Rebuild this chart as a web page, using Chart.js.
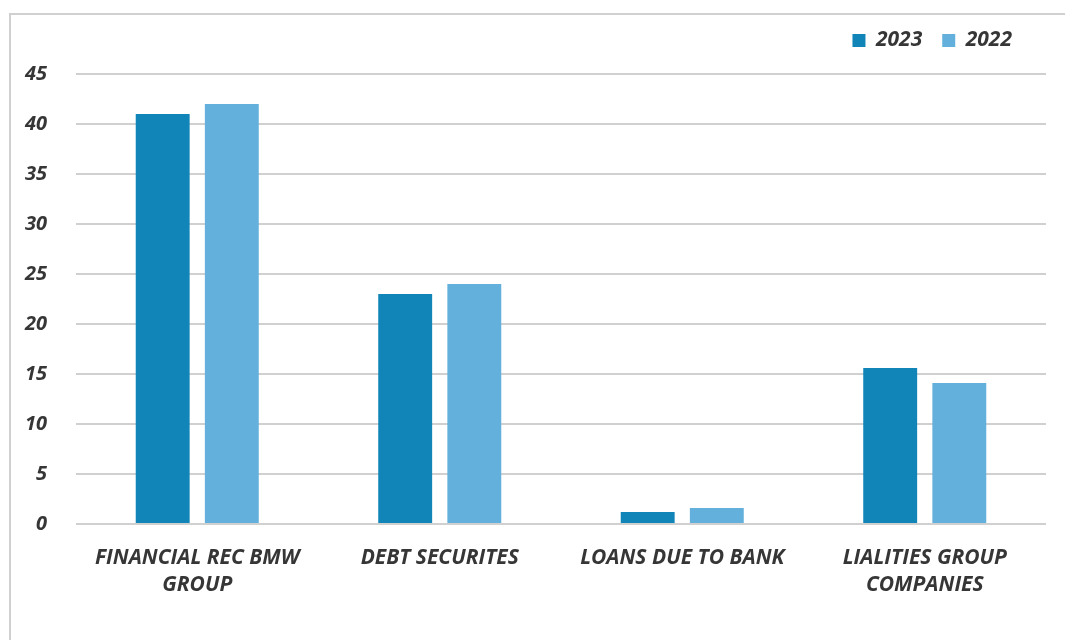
<!DOCTYPE html>
<html>
<head>
<meta charset="utf-8">
<script src="https://cdn.jsdelivr.net/npm/chart.js@4"></script>
<style>
    html, body { margin: 0; padding: 0; background: #fff; overflow: hidden; }
    .frame {
        position: absolute;
        left: 9px;
        top: 13px;
        width: 1100px;
        height: 700px;
        border: 2px solid #d0d0d0;
        box-sizing: border-box;
    }
    .wrap { position: absolute; left: 0; top: 0; width: 1065px; height: 640px; }
</style>
</head>
<body>
<div class="frame"></div>
<div class="wrap"><canvas id="barChart"></canvas></div>
<script>
const categories = [
    ['FINANCIAL REC BMW', 'GROUP'],
    'DEBT SECURITES',
    'LOANS DUE TO BANK',
    ['LIALITIES GROUP', 'COMPANIES']
];
const values2023 = [41, 23, 1.2, 15.6];
const values2022 = [42, 24, 1.6, 14.1];
const yTicks = [0, 5, 10, 15, 20, 25, 30, 35, 40, 45];

document.addEventListener('DOMContentLoaded', function() {
    initializeBarChart();
});

// legend sits a bit left of the plot's right edge and leaves extra room below it
const legendSpacing = {
    id: 'legendSpacing',
    afterInit: function(chart) {
        const legend = chart.legend;
        if (!legend) return;
        const origFit = legend.fit;
        legend.fit = function() {
            origFit.call(this);
            this.height += 13;
            if (this.lineWidths && this.lineWidths.length) {
                this.lineWidths[0] += 14;
            }
        };
    }
};

function initializeBarChart() {
    const ctx = document.getElementById('barChart').getContext('2d');
    const textColor = '#363636';
    const fontFamily = '"Open Sans", "Liberation Sans", sans-serif';

    new Chart(ctx, {
        type: 'bar',
        data: {
            labels: categories,
            datasets: [
                {
                    label: '2023',
                    data: values2023,
                    backgroundColor: '#1185b8',
                    categoryPercentage: 0.57,
                    barPercentage: 0.78
                },
                {
                    label: '2022',
                    data: values2022,
                    backgroundColor: '#63b0dc',
                    categoryPercentage: 0.57,
                    barPercentage: 0.78
                }
            ]
        },
        options: {
            responsive: true,
            maintainAspectRatio: false,
            animation: false,
            layout: {
                padding: { top: 10, right: 19, bottom: 0, left: 0 }
            },
            plugins: {
                legend: {
                    position: 'top',
                    align: 'end',
                    labels: {
                        color: textColor,
                        boxWidth: 13,
                        boxHeight: 13,
                        padding: 20,
                        font: { family: fontFamily, size: 21, weight: 'bold', style: 'italic' }
                    }
                },
                tooltip: { enabled: false }
            },
            scales: {
                y: {
                    min: 0,
                    max: 45,
                    afterFit: function(scale) { scale.width = 76; },
                    afterBuildTicks: function(scale) {
                        scale.ticks = yTicks.map(v => ({ value: v }));
                    },
                    border: { display: false },
                    grid: {
                        color: '#d0d0d0',
                        lineWidth: 2,
                        drawTicks: false
                    },
                    ticks: {
                        padding: 29,
                        color: textColor,
                        font: { family: fontFamily, size: 20, weight: 'bold', style: 'italic' }
                    }
                },
                x: {
                    afterFit: function(scale) { scale.height = 116; },
                    border: { display: false },
                    grid: { display: false, drawTicks: false },
                    ticks: {
                        padding: 20,
                        maxRotation: 0,
                        color: textColor,
                        font: { family: fontFamily, size: 21, weight: 'bold', style: 'italic', lineHeight: 1.3 }
                    }
                }
            }
        },
        plugins: [legendSpacing]
    });
}
</script>
</body>
</html>
